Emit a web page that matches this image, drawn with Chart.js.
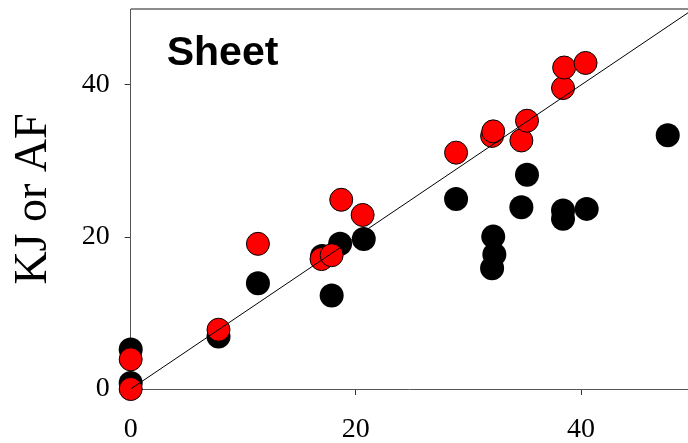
<!DOCTYPE html>
<html>
<head>
<meta charset="utf-8">
<script src="https://cdn.jsdelivr.net/npm/chart.js@4.4.1/dist/chart.umd.min.js"></script>
<style>
    html, body { margin: 0; padding: 0; background: #fff; overflow: hidden; }
    #wrap { position: relative; width: 688px; height: 443px; }
    #wrap canvas { display: block; }
</style>
</head>
<body>
<div id="wrap"><canvas id="sheetChart"></canvas></div>
<script>
// KJ values (black) and AF values (red)
const kjX = [0, 0, 7.8, 11.3, 17.0, 17.85, 18.6, 20.7, 28.9, 32.2, 32.3, 32.1, 34.7, 35.2, 38.4, 38.4, 40.5, 47.7];
const kjY = [5.2, 0.8, 6.9, 13.9, 17.5, 12.3, 19.1, 19.75, 25.0, 20.05, 17.7, 15.9, 23.9, 28.2, 23.5, 22.4, 23.7, 33.4];
const afX = [0, 0, 7.8, 11.3, 16.95, 17.85, 18.7, 20.6, 28.9, 32.1, 32.2, 34.7, 35.2, 38.4, 38.5, 40.4];
const afY = [3.9, 0, 7.8, 19.1, 17.1, 17.6, 24.9, 22.9, 31.1, 33.3, 33.9, 32.7, 35.3, 39.6, 42.3, 42.9];

// 1:1 reference line
const lineX = [0, 50];
const lineY = [0, 50];

const xTicks = [0, 20, 40];
const yTicks = [0, 20, 40];

const toPoints = (xs, ys) => xs.map((x, i) => ({ x: x, y: ys[i] }));

// no automatic label padding, the plot runs to the edges
function fixSize(scale, prop, size) {
    scale[prop] = size;
    scale.paddingTop = 0;
    scale.paddingBottom = 0;
    scale.paddingLeft = 0;
    scale.paddingRight = 0;
}

// gray frame on top + "Sheet" label
const sheetDecor = {
    id: "sheetDecor",
    afterDraw(chart) {
        const { ctx, chartArea } = chart;
        ctx.save();
        ctx.strokeStyle = "#666";
        ctx.lineWidth = 1.5;
        ctx.beginPath();
        ctx.moveTo(chartArea.left, chartArea.top);
        ctx.lineTo(chartArea.right, chartArea.top);
        ctx.stroke();

        ctx.fillStyle = "#000";
        ctx.font = "bold 41px 'Liberation Sans', Arial, sans-serif";
        ctx.textBaseline = "alphabetic";
        ctx.textAlign = "left";
        ctx.fillText("Sheet", chartArea.left + 36, chartArea.top + 56);
        ctx.restore();
    }
};

const ctx = document.getElementById("sheetChart").getContext("2d");

new Chart(ctx, {
    type: "scatter",
    data: {
        datasets: [
            {
                type: "line",
                data: toPoints(lineX, lineY),
                borderColor: "#000",
                borderWidth: 1,
                pointRadius: 0,
                fill: false
            },
            {
                data: toPoints(afX, afY),
                backgroundColor: "#ff0000",
                borderColor: "#000",
                borderWidth: 1,
                pointRadius: 11.5,
                clip: false
            },
            {
                data: toPoints(kjX, kjY),
                backgroundColor: "#000",
                borderColor: "#000",
                borderWidth: 0,
                pointRadius: 12,
                clip: false
            }
        ]
    },
    options: {
        responsive: true,
        maintainAspectRatio: false,
        animation: false,
        layout: {
            autoPadding: false,
            padding: { top: 9, right: 0, left: 0, bottom: 0 }
        },
        plugins: {
            legend: { display: false },
            tooltip: { enabled: false }
        },
        scales: {
            x: {
                type: "linear",
                min: 0,
                max: 49.5,
                afterBuildTicks: scale => { scale.ticks = xTicks.map(v => ({ value: v })); },
                afterFit: scale => fixSize(scale, "height", 54),
                border: { color: "#555", width: 1 },
                grid: {
                    drawOnChartArea: false,
                    drawTicks: true,
                    tickLength: 6,
                    tickColor: "#333"
                },
                ticks: {
                    color: "#000",
                    padding: 18,
                    font: { family: "'Liberation Serif', 'Times New Roman', serif", size: 28 }
                }
            },
            y: {
                type: "linear",
                min: 0,
                max: 50,
                afterBuildTicks: scale => { scale.ticks = yTicks.map(v => ({ value: v })); },
                afterFit: scale => fixSize(scale, "width", 130.7),
                border: { color: "#555", width: 1 },
                grid: {
                    drawOnChartArea: false,
                    drawTicks: true,
                    tickLength: 6,
                    tickColor: "#333"
                },
                ticks: {
                    color: "#000",
                    padding: 15,
                    font: { family: "'Liberation Serif', 'Times New Roman', serif", size: 28 }
                },
                title: {
                    display: true,
                    text: "KJ or AF",
                    color: "#000",
                    padding: { top: 6, bottom: 0 },
                    font: { family: "'Liberation Serif', 'Times New Roman', serif", size: 46, weight: "normal" }
                }
            }
        }
    },
    plugins: [sheetDecor]
});
</script>
</body>
</html>
